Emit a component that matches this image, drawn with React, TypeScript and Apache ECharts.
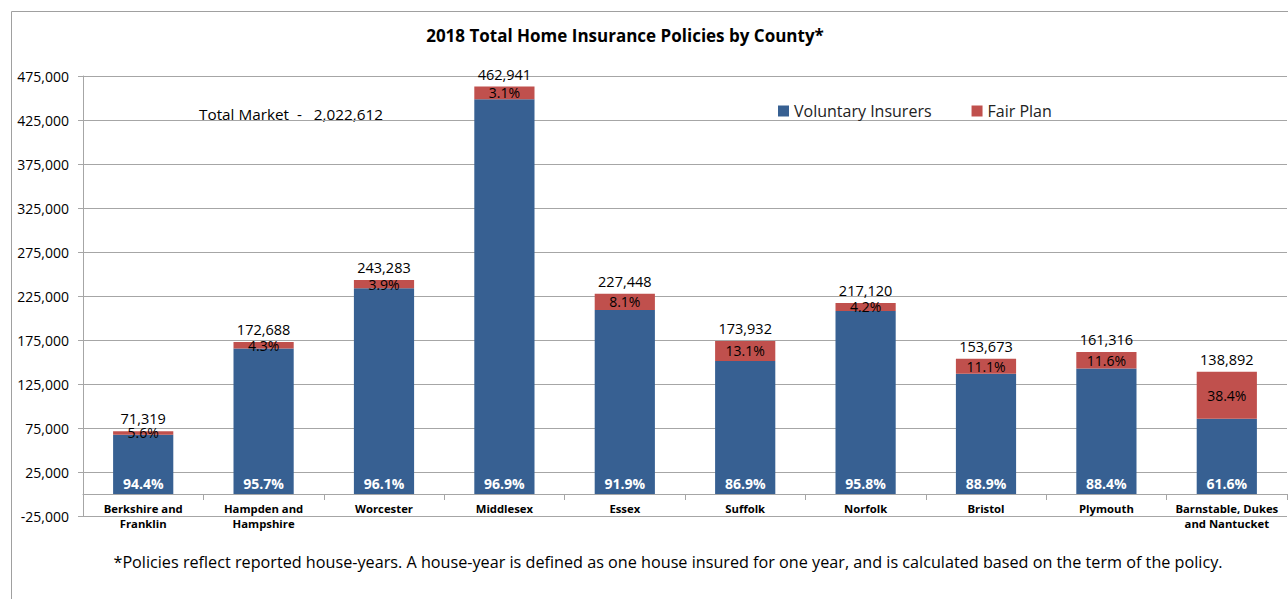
import React, { useEffect, useRef } from "react";
import * as echarts from "echarts";

const categories = [
  "Berkshire and\nFranklin",
  "Hampden and\nHampshire",
  "Worcester",
  "Middlesex",
  "Essex",
  "Suffolk",
  "Norfolk",
  "Bristol",
  "Plymouth",
  "Barnstable, Dukes\nand Nantucket",
];
const totals = [71319, 172688, 243283, 462941, 227448, 173932, 217120, 153673, 161316, 138892];
const voluntaryPct = ["94.4%", "95.7%", "96.1%", "96.9%", "91.9%", "86.9%", "95.8%", "88.9%", "88.4%", "61.6%"];
const fairPct = ["5.6%", "4.3%", "3.9%", "3.1%", "8.1%", "13.1%", "4.2%", "11.1%", "11.6%", "38.4%"];
const voluntary = [67325, 165262, 233795, 448590, 209025, 151147, 208001, 136615, 142603, 85557];
const fairPlan = [3994, 7426, 9488, 14351, 18423, 22785, 9119, 17058, 18713, 53335];
const yTicks = { min: -25000, max: 475000, interval: 50000 };

const FONT = "'Open Sans', sans-serif";
const BLUE = "#376092";
const RED = "#C0504D";
const GRID = "#a6a6a6";

export default function App() {
  const ref = useRef<HTMLDivElement>(null);
  useEffect(() => {
    if (!ref.current) return;
    const chart = echarts.init(ref.current, undefined, { renderer: "svg" });
    chart.setOption({
      animation: false,
      backgroundColor: "#fff",
      textStyle: { fontFamily: FONT },
      title: {
        text: "2018 Total Home Insurance Policies by County*",
        left: 620,
        textAlign: "center",
        top: 22,
        textStyle: { fontFamily: FONT, fontSize: 17, fontWeight: "bold", color: "#000" },
      },
      legend: {
        left: 773,
        top: 98,
        itemWidth: 11,
        itemHeight: 11,
        itemGap: 40,
        icon: "rect",
        textStyle: { fontFamily: FONT, fontSize: 16, color: "#222" },
        data: ["Voluntary Insurers", "Fair Plan"],
      },
      grid: { left: 83, right: 1, top: 76, bottom: 83, containLabel: false },
      xAxis: {
        type: "category",
        data: categories,
        axisLine: { onZero: true, lineStyle: { color: GRID } },
        axisTick: { show: true, length: 6, lineStyle: { color: GRID } },
        axisLabel: {
          interval: 0,
          fontFamily: FONT,
          fontSize: 11.3,
          fontWeight: "bold",
          color: "#000",
          lineHeight: 15,
          margin: -15,
        },
      },
      yAxis: {
        type: "value",
        min: yTicks.min,
        max: yTicks.max,
        interval: yTicks.interval,
        axisLine: { show: true, lineStyle: { color: GRID } },
        axisTick: { show: true, length: 5, lineStyle: { color: GRID } },
        splitLine: { show: true, lineStyle: { color: GRID } },
        axisLabel: {
          fontFamily: FONT,
          fontSize: 14,
          color: "#000",
          margin: 14,
          formatter: (v: number) => v.toLocaleString("en-US"),
        },
      },
      graphic: [
        {
          type: "rect",
          shape: { x: 11.5, y: 11.5, width: 1300, height: 620 },
          style: { fill: "none", stroke: "#a0a0a0", lineWidth: 1 },
          silent: true,
        },
        {
          type: "text",
          x: 199,
          y: 114,
          style: {
            text: "Total Market  -   2,022,612",
            fontFamily: FONT,
            fontSize: 15.3,
            fill: "#000",
            verticalAlign: "middle",
          },
        },
        {
          type: "text",
          x: 668,
          y: 562,
          style: {
            text:
              "*Policies reflect reported house-years. A house-year is defined as one house insured for one year, and is calculated based on the term of the policy.",
            fontFamily: FONT,
            fontSize: 16.2,
            fill: "#000",
            align: "center",
            verticalAlign: "middle",
          },
        },
      ],
      series: [
        {
          name: "Voluntary Insurers",
          type: "bar",
          stack: "total",
          barWidth: "50%",
          data: voluntary,
          itemStyle: { color: BLUE },
          label: {
            show: true,
            position: "insideBottom",
            distance: 4,
            formatter: (p: any) => voluntaryPct[p.dataIndex],
            color: "#fff",
            fontWeight: "bold",
            fontSize: 14,
            fontFamily: FONT,
          },
        },
        {
          name: "Fair Plan",
          type: "bar",
          stack: "total",
          barWidth: "50%",
          data: fairPlan,
          itemStyle: { color: RED },
          label: {
            show: true,
            position: "inside",
            formatter: (p: any) => fairPct[p.dataIndex],
            color: "#000",
            fontSize: 14,
            fontFamily: FONT,
          },
        },
        {
          name: "Total",
          type: "bar",
          stack: "total",
          barWidth: "50%",
          data: totals.map(() => 0),
          itemStyle: { color: "transparent" },
          silent: true,
          label: {
            show: true,
            position: "top",
            distance: 5,
            formatter: (p: any) => totals[p.dataIndex].toLocaleString("en-US"),
            color: "#000",
            fontSize: 14.5,
            fontFamily: FONT,
          },
        },
      ],
    });
    return () => chart.dispose();
  }, []);
  return (
    <div
      ref={ref}
      style={{ position: "fixed", left: 0, top: 0, width: 1288, height: 599 }}
    />
  );
}
